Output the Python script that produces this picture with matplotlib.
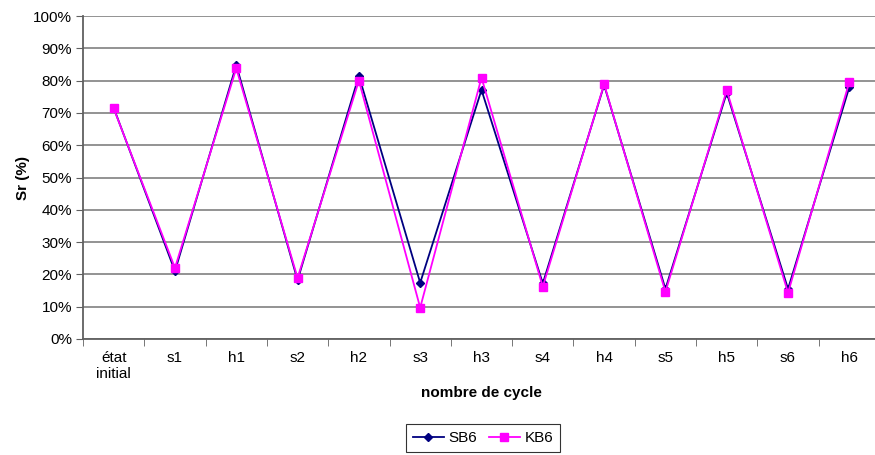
import numpy as np
import matplotlib
matplotlib.use('Agg')
import matplotlib.pyplot as plt
from matplotlib.ticker import FuncFormatter, FixedLocator

plt.rcParams['font.family'] = ['Liberation Sans', 'DejaVu Sans']

# Données
cycles = ['état\ninitial', 's1', 'h1', 's2', 'h2', 's3', 'h3', 's4', 'h4', 's5', 'h5', 's6', 'h6']
sb6 = [0.716, 0.210, 0.848, 0.182, 0.815, 0.174, 0.771, 0.172, 0.786, 0.155, 0.762, 0.155, 0.780]
kb6 = [0.714, 0.220, 0.838, 0.189, 0.800, 0.097, 0.809, 0.162, 0.789, 0.146, 0.770, 0.143, 0.796]

fig = plt.figure(figsize=(8.75, 4.55), dpi=100)
ax = fig.add_axes([83/875, 1 - 339/455, 797/875, 323/455])

x = np.arange(len(cycles))
ax.plot(x, sb6, color='#000080', marker='D', markersize=4, linewidth=1.3, label='SB6', zorder=3)
ax.plot(x, kb6, color='#FF00FF', marker='s', markersize=6, linewidth=1.3, label='KB6', zorder=4)

ax.set_xlim(-0.5, len(cycles) - 0.5)
ax.set_ylim(0, 1)
ax.set_yticks(np.arange(0, 1.01, 0.1))
ax.yaxis.set_major_formatter(FuncFormatter(lambda v, p: f'{v*100:.0f}%'))
ax.yaxis.grid(True, color='#808080', linewidth=1.2)
ax.set_axisbelow(True)

ax.set_xticks(x)
ax.set_xticklabels(cycles, linespacing=1.1)
ax.xaxis.set_minor_locator(FixedLocator(np.arange(-0.5, len(cycles), 1)))
ax.tick_params(axis='x', which='major', length=0, pad=9, labelsize=11, colors='black')
ax.tick_params(axis='x', which='minor', length=5, color='#606060', direction='out')
ax.tick_params(axis='y', length=5, color='#606060', labelsize=11, pad=3)

for s in ['top', 'right']:
    ax.spines[s].set_visible(False)
for s in ['left', 'bottom']:
    ax.spines[s].set_color('#606060')
    ax.spines[s].set_linewidth(1.3)

ax.set_xlabel('nombre de cycle', fontsize=11, fontweight='bold', labelpad=4)
ax.set_ylabel('Sr (%)', fontsize=11, fontweight='bold', labelpad=2)

leg = fig.legend(loc='lower center', bbox_to_anchor=(483/875, 3/455), ncol=2, fontsize=11,
                 frameon=True, fancybox=False, edgecolor='black', handlelength=2.0,
                 columnspacing=0.8, handletextpad=0.3, borderpad=0.45, borderaxespad=0)
leg.get_frame().set_linewidth(0.8)

fig.savefig('out.png', dpi=100)
